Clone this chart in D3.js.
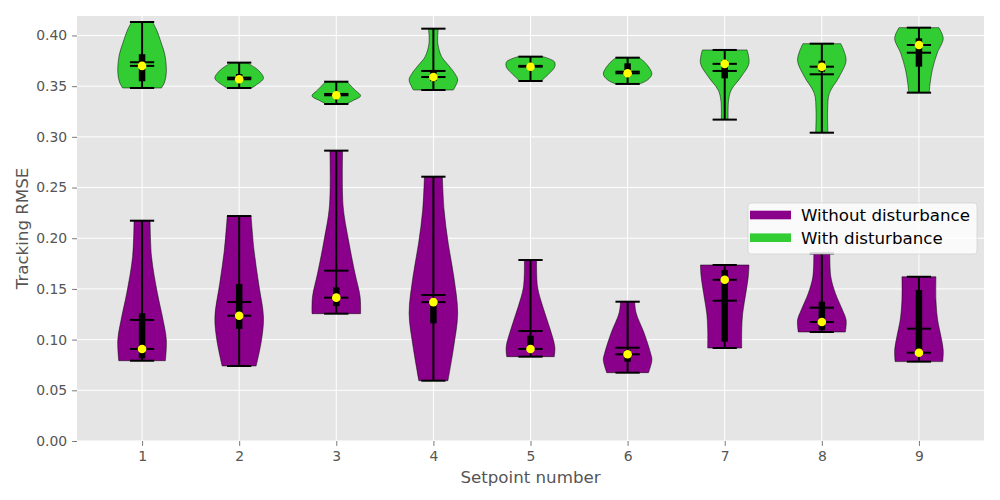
<!DOCTYPE html>
<html>
<head>
<meta charset="utf-8">
<script src="https://cdn.jsdelivr.net/npm/d3@7"></script>
<style>
  html, body { margin: 0; padding: 0; background: #ffffff; }
  svg { display: block; font-family: "DejaVu Sans", sans-serif; }
</style>
</head>
<body>
<svg id="chart" width="1000" height="500"></svg>
<script>
// ==========================================================================
// DADOS
// ==========================================================================

const setpoints = [1, 2, 3, 4, 5, 6, 7, 8, 9];
const yTicks = [0, 0.05, 0.10, 0.15, 0.20, 0.25, 0.30, 0.35, 0.40];
const seriesNames = ['Without disturbance', 'With disturbance'];

// Without disturbance
const withoutMins    = [0.0792, 0.0740, 0.1256, 0.0595, 0.0832, 0.0674, 0.0917, 0.1075, 0.0783];
const withoutMaxs    = [0.2173, 0.2219, 0.2864, 0.2607, 0.1785, 0.1374, 0.1736, 0.1850, 0.1620];
const withoutMedians = [0.0908, 0.1236, 0.1414, 0.1370, 0.0908, 0.0855, 0.1590, 0.1174, 0.0871];
const withoutMeans   = [0.1194, 0.1371, 0.1680, 0.1440, 0.1085, 0.0920, 0.1384, 0.1315, 0.1108];
const withoutQ1      = [0.0816, 0.1105, 0.1332, 0.1160, 0.0890, 0.0782, 0.0980, 0.1095, 0.0850];
const withoutQ3      = [0.1260, 0.1549, 0.1516, 0.1400, 0.1039, 0.0898, 0.1687, 0.1374, 0.1490];
// perfil de densidade: [valor, largura relativa]
const withoutShapes = [
    [[0.0792, 0.96], [0.0996, 1.00], [0.1223, 0.84], [0.1460, 0.63], [0.1818, 0.39], [0.2173, 0.33]],
    [[0.0740, 0.70], [0.0996, 0.92], [0.1223, 1.00], [0.1555, 0.80], [0.1884, 0.61], [0.2219, 0.49]],
    [[0.1256, 1.00], [0.1424, 0.98], [0.1654, 0.77], [0.1984, 0.50], [0.2318, 0.28], [0.2864, 0.26]],
    [[0.0595, 0.60], [0.0937, 0.84], [0.1259, 1.00], [0.1621, 0.84], [0.1950, 0.61], [0.2279, 0.44], [0.2607, 0.37]],
    [[0.0832, 0.98], [0.0930, 1.00], [0.1124, 0.78], [0.1322, 0.51], [0.1519, 0.29], [0.1785, 0.25]],
    [[0.0674, 0.86], [0.0799, 1.00], [0.0862, 0.95], [0.1065, 0.68], [0.1263, 0.35], [0.1374, 0.29]],
    [[0.0917, 0.70], [0.1095, 0.70], [0.1259, 0.74], [0.1457, 0.87], [0.1621, 0.97], [0.1736, 1.00]],
    [[0.1075, 0.97], [0.1193, 1.00], [0.1292, 0.85], [0.1456, 0.56], [0.1621, 0.37], [0.1850, 0.33]],
    [[0.0783, 0.98], [0.0898, 1.00], [0.1029, 0.91], [0.1194, 0.77], [0.1391, 0.70], [0.1620, 0.70]]
];

// With disturbance
const withMins    = [0.3482, 0.3482, 0.3324, 0.3462, 0.3551, 0.3522, 0.3170, 0.3041, 0.3436];
const withMaxs    = [0.4133, 0.3732, 0.3544, 0.4067, 0.3791, 0.3781, 0.3857, 0.3919, 0.4077];
const withMedians = [0.3700, 0.3568, 0.3410, 0.3590, 0.3692, 0.3627, 0.3720, 0.3692, 0.3906];
const withMeans   = [0.3736, 0.3584, 0.3423, 0.3650, 0.3700, 0.3643, 0.3650, 0.3617, 0.3830];
const withQ1      = [0.3548, 0.3560, 0.3395, 0.3550, 0.3675, 0.3594, 0.3577, 0.3643, 0.3692];
const withQ3      = [0.3815, 0.3620, 0.3430, 0.3660, 0.3715, 0.3725, 0.3758, 0.3751, 0.3972];
const withShapes = [
    [[0.3482, 0.80], [0.3541, 0.93], [0.3640, 1.00], [0.3808, 0.94], [0.3926, 0.79], [0.4054, 0.60], [0.4133, 0.43]],
    [[0.3482, 0.51], [0.3513, 0.71], [0.3578, 1.00], [0.3659, 0.78], [0.3732, 0.31]],
    [[0.3324, 0.41], [0.3357, 0.68], [0.3404, 1.00], [0.3462, 0.77], [0.3544, 0.44]],
    [[0.3462, 0.82], [0.3561, 1.00], [0.3626, 0.88], [0.3709, 0.61], [0.3791, 0.34], [0.3923, 0.18], [0.4067, 0.20]],
    [[0.3551, 0.44], [0.3627, 0.78], [0.3692, 1.00], [0.3742, 0.98], [0.3791, 0.51]],
    [[0.3522, 0.49], [0.3561, 0.82], [0.3620, 1.00], [0.3725, 0.75], [0.3781, 0.48]],
    [[0.3170, 0.14], [0.3363, 0.16], [0.3462, 0.27], [0.3594, 0.68], [0.3726, 1.00], [0.3857, 0.92]],
    [[0.3041, 0.25], [0.3265, 0.24], [0.3429, 0.31], [0.3594, 0.72], [0.3758, 1.00], [0.3919, 0.78]],
    [[0.3436, 0.42], [0.3527, 0.46], [0.3660, 0.55], [0.3824, 0.75], [0.3972, 1.00], [0.4077, 0.82]]
];

// ==========================================================================
// CONFIGURAÇÕES
// ==========================================================================

const COLORS = {
    without: '#8B008B',
    with: '#32CD32',
    axesBg: '#E5E5E5',
    grid: '#FFFFFF',
    tick: '#555555',
    median: '#FFFF00'
};

const plot = { left: 77, right: 984, top: 16, bottom: 441 };
const violinWidth = 0.5;

const svg = d3.select('#chart');

const x = d3.scaleLinear().domain([0.33, 9.67]).range([plot.left, plot.right]);
const y = d3.scaleLinear().domain([0, 0.4192]).range([plot.bottom, plot.top]);

// Fundo do eixo
svg.append('rect')
    .attr('x', plot.left).attr('y', plot.top)
    .attr('width', plot.right - plot.left)
    .attr('height', plot.bottom - plot.top)
    .attr('fill', COLORS.axesBg);

// Grade
svg.append('g')
    .selectAll('line')
    .data(yTicks)
    .enter().append('line')
    .attr('x1', plot.left).attr('x2', plot.right)
    .attr('y1', d => y(d)).attr('y2', d => y(d))
    .attr('stroke', COLORS.grid).attr('stroke-width', 1);

svg.append('g')
    .selectAll('line')
    .data(setpoints)
    .enter().append('line')
    .attr('x1', d => x(d)).attr('x2', d => x(d))
    .attr('y1', plot.top).attr('y2', plot.bottom)
    .attr('stroke', COLORS.grid).attr('stroke-width', 1);

// Eixos
const yAxis = svg.append('g')
    .attr('transform', `translate(${plot.left},0)`)
    .call(d3.axisLeft(y).tickValues(yTicks).tickFormat(d3.format('.2f'))
        .tickSize(4.9).tickPadding(4.9));

const xAxis = svg.append('g')
    .attr('transform', `translate(0,${plot.bottom})`)
    .call(d3.axisBottom(x).tickValues(setpoints).tickFormat(d3.format('d'))
        .tickSize(4.9).tickPadding(4.9));

[xAxis, yAxis].forEach(ax => {
    ax.select('.domain').remove();
    ax.selectAll('.tick line').attr('stroke', COLORS.tick).attr('stroke-width', 0.8);
    ax.selectAll('.tick text')
        .attr('fill', COLORS.tick)
        .style('font-family', '"DejaVu Sans", sans-serif')
        .style('font-size', '13.9px');
});

// Títulos dos eixos
svg.append('text')
    .attr('x', (plot.left + plot.right) / 2)
    .attr('y', 483)
    .attr('text-anchor', 'middle')
    .attr('fill', COLORS.tick)
    .style('font-size', '16.67px')
    .text('Setpoint number');

svg.append('text')
    .attr('transform', `translate(28,${(plot.top + plot.bottom) / 2}) rotate(-90)`)
    .attr('text-anchor', 'middle')
    .attr('fill', COLORS.tick)
    .style('font-size', '16.67px')
    .text('Tracking RMSE');

// ==========================================================================
// VIOLINOS
// ==========================================================================

function drawViolins(color, shapes, mins, maxs, means, medians, q1, q3) {
    const g = svg.append('g');
    const half = x(violinWidth / 2) - x(0);
    const cap = x(violinWidth / 4) - x(0);

    setpoints.forEach((pos, i) => {
        const cx = x(pos);
        const area = d3.area()
            .y(d => y(d[0]))
            .x0(d => cx - half * d[1])
            .x1(d => cx + half * d[1])
            .curve(d3.curveCatmullRom.alpha(0.5));

        g.append('path')
            .attr('d', area(shapes[i]))
            .attr('fill', color)
            .attr('stroke', '#000')
            .attr('stroke-opacity', 0.55)
            .attr('stroke-width', 0.9);

        // linha vertical min-max
        g.append('line')
            .attr('x1', cx).attr('x2', cx)
            .attr('y1', y(mins[i])).attr('y2', y(maxs[i]))
            .attr('stroke', '#000').attr('stroke-width', 2);

        // min, max, média e mediana
        [mins[i], maxs[i], means[i], medians[i]].forEach(v => {
            g.append('line')
                .attr('x1', cx - cap).attr('x2', cx + cap)
                .attr('y1', y(v)).attr('y2', y(v))
                .attr('stroke', '#000').attr('stroke-width', 2);
        });

        // quartis
        g.append('line')
            .attr('x1', cx).attr('x2', cx)
            .attr('y1', y(q1[i])).attr('y2', y(q3[i]))
            .attr('stroke', '#000').attr('stroke-width', 6.5);

        // ponto da mediana
        g.append('circle')
            .attr('cx', cx).attr('cy', y(medians[i]))
            .attr('r', 4.3)
            .attr('fill', COLORS.median);
    });
}

drawViolins(COLORS.without, withoutShapes, withoutMins, withoutMaxs,
    withoutMeans, withoutMedians, withoutQ1, withoutQ3);
drawViolins(COLORS.with, withShapes, withMins, withMaxs,
    withMeans, withMedians, withQ1, withQ3);

// ==========================================================================
// LEGENDA
// ==========================================================================

const legend = svg.append('g');
legend.append('rect')
    .attr('x', 748).attr('y', 203)
    .attr('width', 229).attr('height', 51)
    .attr('rx', 3)
    .attr('fill', '#FFFFFF').attr('fill-opacity', 0.8)
    .attr('stroke', '#CCCCCC').attr('stroke-opacity', 0.8)
    .attr('stroke-width', 0.8);

[COLORS.without, COLORS.with].forEach((c, i) => {
    legend.append('rect')
        .attr('x', 750).attr('y', 210.7 + i * 22.7)
        .attr('width', 41).attr('height', 8.6)
        .attr('fill', c);
    legend.append('text')
        .attr('x', 801).attr('y', 221 + i * 22.7)
        .attr('fill', '#000')
        .style('font-size', '16.67px')
        .text(seriesNames[i]);
});
</script>
</body>
</html>
